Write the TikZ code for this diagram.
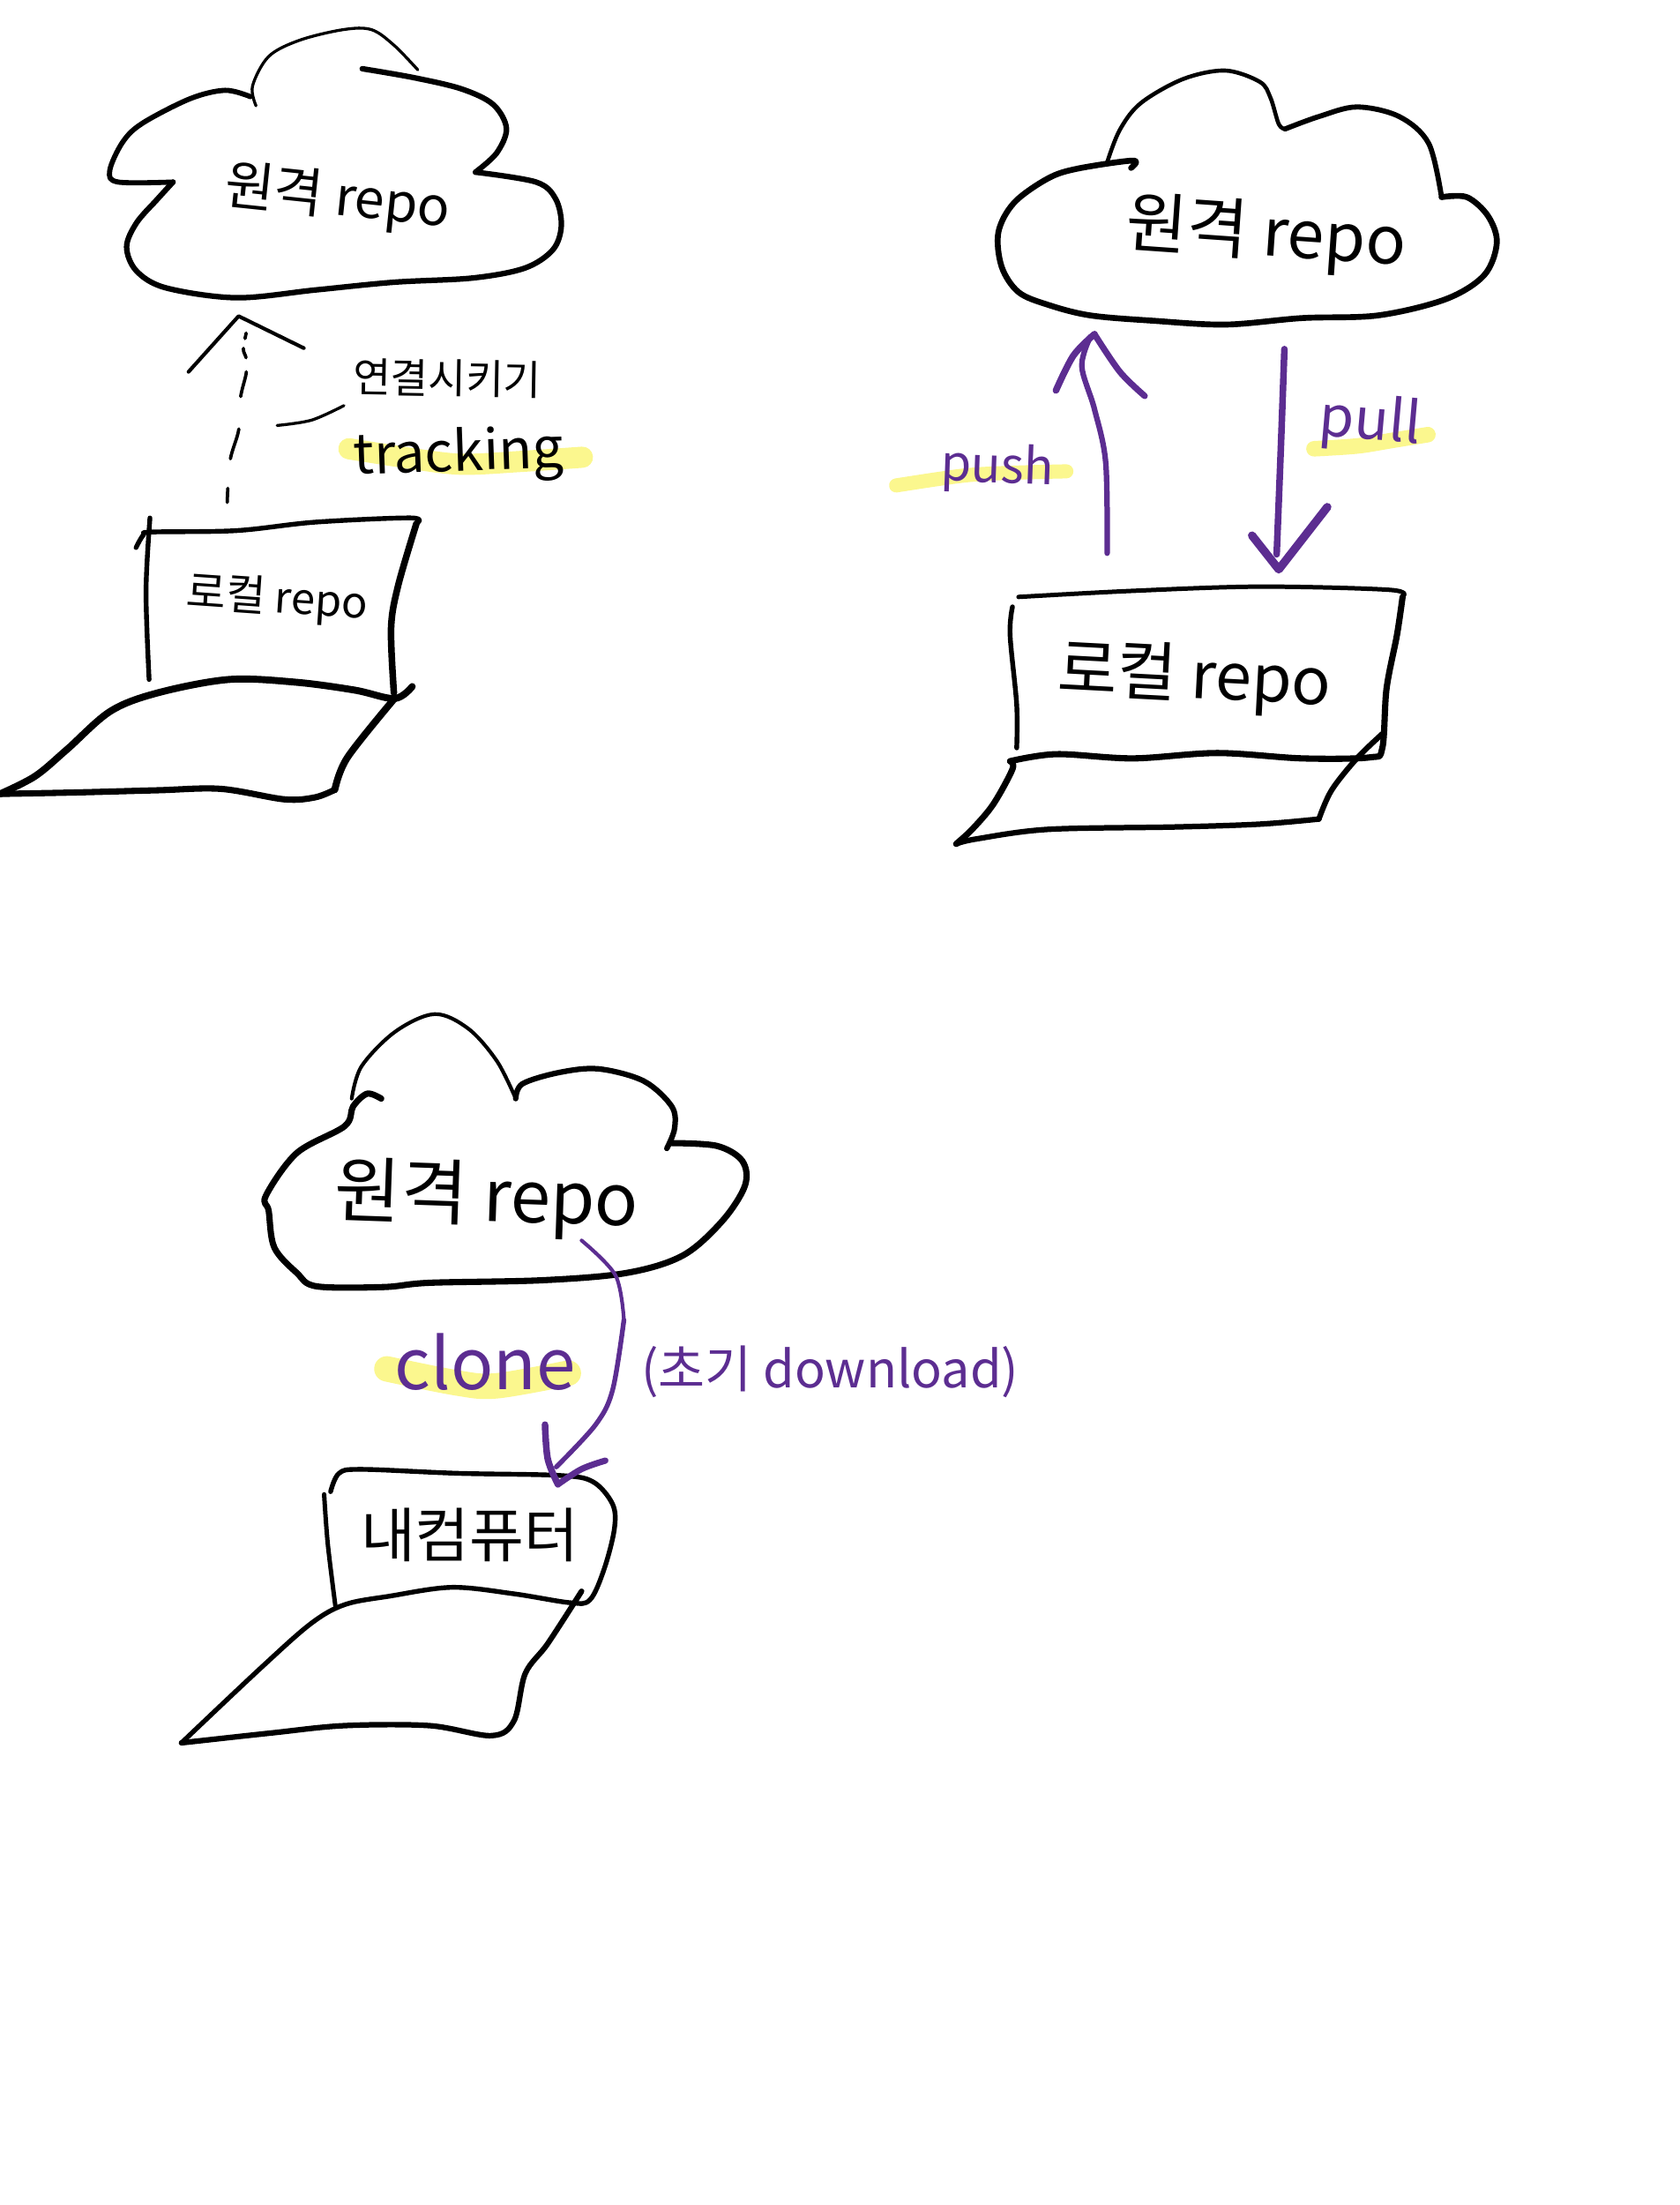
\documentclass[tikz,border=0pt]{standalone}
\usepackage{fontspec}
\setmainfont{Noto Sans CJK KR}
\definecolor{inkpurple}{HTML}{5C2D91}
\definecolor{marker}{HTML}{FBF78E}
\tikzset{
  ink/.style={draw=black,line width=1.3*#1,line cap=round,line join=round},
  ink/.default=3.2pt,
  pen/.style={draw=inkpurple,line width=1.3*#1,line cap=round,line join=round},
  pen/.default=3pt,
  glow/.style={draw=marker,line width=#1,line cap=round,line join=round},
  curve/.style={smooth,tension=.55},
  hand/.style={font=\fontsize{#1}{#1}\selectfont,inner sep=0pt,text=black},
  handp/.style={font=\fontsize{#1}{#1}\selectfont,inner sep=0pt,text=inkpurple}
}
\begin{document}
\begin{tikzpicture}[x=0.997pt,y=-1pt]
\useasboundingbox (0,0) rectangle (1194.2,1562.5);
% highlights (underneath)
\draw[glow=15pt] plot[curve] coordinates {(248,318) (300,326) (330,329) (370,327) (414,324)};
\draw[glow=10pt] plot[curve] coordinates {(637,344) (685,337) (720,335) (758,334)};
\draw[glow=11pt] plot[curve] coordinates {(934,318) (965,316) (990,312) (1015,308)};
\draw[glow=18pt] plot[curve] coordinates {(275,970) (325,980) (353,982) (404,973)};

% ---------- cloud 1
\draw[ink=1.6pt] plot[curve] coordinates {(297,49.5) (280,32) (264,21) (244,21) (213,28.5) (191,40) (179.5,61) (182,75)};
\draw[ink=2.8pt] plot[curve] coordinates {(178,68.5) (160,64) (135,70) (101,87.5) (87,101) (78,121) (84,129) (123,129)};
\draw[ink=3pt] plot[curve] coordinates {(123,129) (112,141) (97,158) (90,175) (97,192) (118,204) (168,211) (224,205.5) (280,200) (336,197) (373,190) (393,177) (399,160) (395,141) (381,129) (338,122)};
\draw[ink=3pt] plot[curve] coordinates {(338,122) (353,108.5) (360,91) (350.5,74) (328,63) (294,55) (257.5,48.7)};
\node[hand=38,rotate=-6] (cloudA) at (240,141) {원격 repo};

% ---------- laptop 1
\draw[ink=2.6pt] plot[curve] coordinates {(106.6,367) (103.8,419) (106,481.5)};
\draw[ink=2.6pt] plot[curve] coordinates {(96.7,388) (102,379) (108,377) (168,376) (224,370) (292,367) (296,371)};
\draw[ink=3.6pt] plot[curve] coordinates {(296,371) (283,415) (278,445) (280,491)};
\draw[ink=3.8pt] plot[curve] coordinates {(293,486.5) (280.4,495) (252,489) (210,483.4) (162.6,481.5) (112,491) (78.5,504) (47.7,531) (25,550) (0,562.6)};
\draw[ink=3.4pt] plot[curve] coordinates {(0,562.6) (56,561.5) (112,560) (157,559) (202,566.4) (224,565) (238,559.6)};
\draw[ink=3.8pt] plot[curve] coordinates {(238,559.6) (247,536.7) (280.4,495)};
\node[hand=30.5,rotate=-4] (localA) at (197,425) {로컬 repo};

% tracking connector
\coordinate (trkFrom) at (161.5,356);
\coordinate (trkTip) at (169.6,224);
\coordinate (headL) at (134,263.5);
\coordinate (headR) at (216,246.7);
\draw[ink=1.8pt,dash pattern=on 10pt off 21pt on 22pt off 23pt on 18pt off 10pt on 7pt off 7pt on 4pt off 200pt]
  plot[curve] coordinates {(trkFrom) (163.5,326.6) (169.7,304.5) (171,281.7) (175,264.5) (175,254) (173,247.5) (175,236)};
\draw[ink=2pt] (headL) -- (trkTip) -- (headR);
\node[hand=29,rotate=-1] (linkLabel) at (318,268) {연결시키기};
\draw[ink=1.6pt] plot[curve] coordinates {(197,301.5) (221.5,297.7) (244.5,287.4)};
\node[hand=39,rotate=2] (tracking) at (326,323) {tracking};

% ---------- cloud 2
\draw[ink=2.2pt] plot[curve] coordinates {(787,115) (796,92) (811,73) (841,56) (871,50) (895.5,58) (903,69) (909,88) (913.5,91.4)};
\draw[ink=2.8pt] plot[curve] coordinates {(913.5,91.4) (937.5,82.6) (964.5,75.8) (994.6,82.6) (1015.6,101.7) (1024.7,139.7)};
\draw[ink=3.2pt] plot[curve] coordinates {(1024.7,139.7) (1042.7,139.7) (1057.7,153) (1064,172) (1055,195) (1027.7,212) (979.6,223.5) (925.5,225.4) (871.4,230) (820,227.3) (775,223.5) (745,216) (724,207) (712,189) (709.7,164.5) (721,143.5) (745,126.4) (766,119.5) (805.3,113.8) (804,119)};
\node[hand=47,rotate=-4] (cloudB) at (900,167) {원격 repo};

% ---------- laptop 2
\draw[ink=2.6pt] plot[curve] coordinates {(719.7,430) (718,450) (722.7,499.4) (722.7,530)};
\draw[ink=2.4pt] plot[curve] coordinates {(724,423) (805,418.7) (895.5,415.7) (988,418) (997,423)};
\draw[ink=3.4pt] plot[curve] coordinates {(997,423) (993,450) (985.6,488) (982.6,530) (973.6,536.7) (925.5,537.4) (865.4,533.6) (805.3,537.4) (751,534.4) (718,539.4)};
\draw[ink=3.4pt] plot[curve] coordinates {(718,539.4) (719.7,545) (706,570) (691,587.7) (679.7,598)};
\draw[ink=3pt] plot[curve] coordinates {(679.7,598) (694,594.5) (745,587.7) (835.4,586) (895.5,584) (937.5,580.4)};
\draw[ink=3pt] plot[curve] coordinates {(937.5,580.4) (946.5,560) (964.5,537.4) (982.6,520)};
\node[hand=46,rotate=-3] (localB) at (849,481) {로컬 repo};

% push / pull
\coordinate (pushFrom) at (787,392);
\coordinate (pushTip) at (775,238.7);
\coordinate (pullFrom) at (913,247.4);
\coordinate (pullTip) at (907.5,392.8);
\draw[pen=3pt] plot[curve] coordinates {(pushFrom) (786,328) (778,290) (769,259.6) (pushTip)};
\draw[pen=3.6pt] plot[curve] coordinates {(750.6,276.7) (763,252) (778,236.8)};
\draw[pen=3.4pt] plot[curve] coordinates {(778,236.8) (796,263.4) (813.7,280.6)};
\draw[pen=3.6pt] plot[curve] coordinates {(pullFrom) (910.5,316.7) (pullTip)};
\draw[pen=4.5pt] (890,379.5) -- (909,403.5) -- (943.5,359.3);
\node[handp=35,rotate=-2] (push) at (709,332) {push};
\node[handp=40,rotate=-5] (pull) at (974,300) {pull};

% ---------- cloud 3
\draw[ink=2pt] plot[curve] coordinates {(250,778.5) (257,755.6) (281,731) (309,718.6) (333,729) (353.3,752) (366.6,778.5)};
\draw[ink=3pt] plot[curve] coordinates {(366.6,778.5) (371.4,768) (397.4,760) (425.4,757.4) (457.5,766) (477.5,784) (479.5,799.7) (474,813.8)};
\draw[ink=3.4pt] plot[curve] coordinates {(477.5,810) (509.6,812) (527.6,822.6) (529.6,840) (513.6,865) (485.5,889.6) (445.5,902) (385.4,907.2) (305.3,909) (273,912) (225,911.5) (211,902) (195,884) (191,858) (189,847.3) (211,817) (245,798) (251,784) (261,775) (271,778.5)};
\node[hand=51,rotate=-2] (cloudC) at (346,850) {원격 repo};

% ---------- laptop 3
\draw[ink=2.4pt] plot[curve] coordinates {(230.4,1058.9) (233,1094) (238.4,1138)};
\draw[ink=2.6pt] plot[curve] coordinates {(235,1057) (241,1044) (257,1041.2) (325.3,1044) (397.4,1045.5) (421.5,1050) (435.5,1066) (436.7,1083.5) (429.5,1111.7) (419.4,1133.6) (405.4,1135.7) (365.4,1129.4) (321.3,1124.8) (277.2,1131) (245.2,1137) (221,1150.5) (185,1182.3) (129,1235)};
\draw[ink=3pt] plot[curve] coordinates {(129,1235) (193,1228) (245,1222.8) (305.3,1222.8) (349.3,1229.9) (365.4,1219.3) (373.4,1185.8) (389.4,1164.6) (413.4,1127.6)};
\node[hand=42] (mine) at (334,1088) {내컴퓨터};

% clone
\coordinate (cloneFrom) at (413.4,879);
\coordinate (cloneTip) at (395.4,1039.5);
\draw[pen=2pt] plot[curve] coordinates {(cloneFrom) (437.5,903.7) (443.5,935.4)};
\draw[pen=2.6pt] plot[curve] coordinates {(443.5,935.4) (435.5,984.8) (423.4,1009.5) (cloneTip)};
\draw[pen=3.6pt] plot[curve] coordinates {(387.4,1009.5) (389.4,1034) (396.6,1051.8)};
\draw[pen=3.4pt] plot[curve] coordinates {(396.6,1051.8) (413.4,1041) (430.3,1035)};
\node[handp=50] (clone) at (345,965) {clone};
\node[handp=36] (initial) at (590,972) {(초기 download)};
\end{tikzpicture}
\end{document}
